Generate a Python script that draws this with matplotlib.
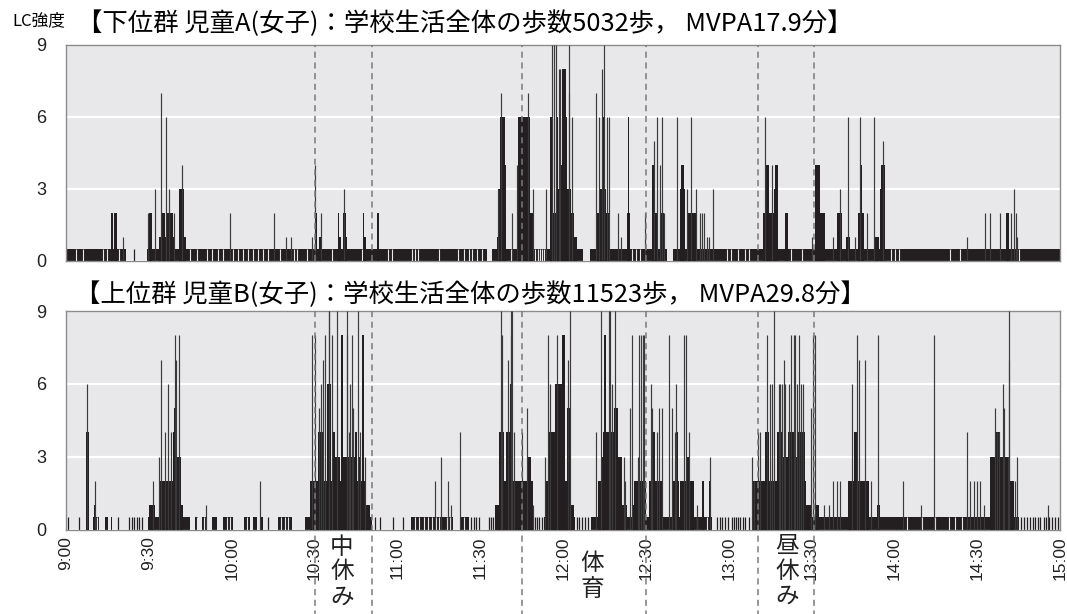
import matplotlib
matplotlib.use("Agg")
import matplotlib.pyplot as plt

# minutes after 9:00 ; levels are Lifecorder intensity (0.5 = micro activity)
periods = [90, 111, 165, 210, 250.5, 271]
tick_min = list(range(0, 361, 30))
tick_lab = ["9:00", "9:30", "10:00", "10:30", "11:00", "11:30", "12:00",
            "12:30", "13:00", "13:30", "14:00", "14:30", "15:00"]

title_a = "【下位群 児童A(女子)：学校生活全体の歩数5032歩， MVPA17.9分】"
title_b = "【上位群 児童B(女子)：学校生活全体の歩数11523歩， MVPA29.8分】"

# ---- child A (lower group) ----
a_base = [(0.0, 21.6), (29.5, 152.4), (154.2, 187.4), (189.8, 217.5), (219.9, 360.0)]
a_ticks = [24.5]
a_gaps = [3.6, 6.3, 13.5, 14.7, 19.3, 44.9, 47.3, 51.0, 52.9, 55.0, 56.8, 60.6, 62.4,
          64.2, 66.0, 67.9, 69.7, 71.5, 73.0, 77.5, 82.4, 83.8, 87.2, 96.3, 107.1, 116.8,
          118.0, 125.2, 126.4, 127.6, 135.0, 142.0, 144.0, 145.8, 147.2, 148.8, 150.6,
          161.0, 170.0, 170.8, 171.6, 172.4, 173.2, 205.0, 206.5, 208.0, 239.4, 241.0,
          243.3, 245.8, 247.2, 262.7, 266.5, 298.9, 300.4, 301.6, 320.3, 323.7, 345.3]
a_blocks = [
    (16.3, 16.9, 2), (17.5, 18.4, 2), (30.2, 31.0, 2),
    (33.8, 39.5, 1), (34.7, 36.0, 2), (36.6, 38.9, 2), (41.0, 42.8, 3), (42.8, 43.6, 1),
    (90.6, 91.0, 2), (91.8, 92.8, 1), (98.4, 99.0, 2), (98.7, 99.6, 1), (100.2, 101.4, 2),
    (100.6, 101.8, 1), (107.5, 108.0, 2), (108.0, 108.5, 1), (112.6, 113.5, 2),
    (156.0, 156.6, 1), (156.5, 157.2, 3), (157.2, 159.0, 6), (159.0, 159.5, 4),
    (163.7, 165.1, 6), (165.1, 166.4, 4), (165.3, 166.2, 6), (166.4, 168.0, 6), (168.0, 169.5, 2),
    (175.2, 184.0, 2), (178.0, 182.8, 3), (179.0, 181.6, 4), (177.5, 178.2, 6), (179.6, 181.2, 8),
    (180.6, 181.6, 6), (175.4, 176.2, 6), (184.0, 185.0, 1),
    (192.0, 193.0, 2), (193.5, 195.5, 3), (194.0, 195.2, 6), (195.5, 196.6, 2),
    (203.0, 204.3, 2), (203.4, 204.0, 6),
    (212.2, 212.8, 4), (213.0, 214.5, 2), (215.5, 216.5, 2),
    (222.3, 224.2, 3), (222.8, 224.0, 4), (225.4, 228.5, 2),
    (252.6, 257.8, 2), (253.0, 254.5, 4), (256.3, 257.8, 3), (256.6, 257.8, 4),
    (260.3, 261.5, 2), (271.1, 273.2, 4), (273.2, 275.0, 2),
    (279.2, 281.0, 2), (282.5, 283.8, 1), (286.8, 288.9, 2), (287.5, 288.3, 4),
    (293.1, 294.3, 1), (294.9, 296.8, 3), (295.3, 296.5, 4), (340.6, 341.4, 2),
]
a_spikes = [
    (20.5, 1), (29.8, 2), (32.4, 3), (34.3, 7), (36.2, 6), (37.3, 3), (39.0, 2), (42.0, 4),
    (59.4, 2), (75.4, 2), (79.7, 1), (81.6, 1), (89.2, 1), (90.2, 4), (92.3, 2), (100.6, 3),
    (157.5, 7), (156.4, 3), (161.5, 2), (163.5, 4), (167.5, 7), (169.2, 3), (174.0, 3),
    (175.9, 9), (176.6, 9), (177.3, 9), (178.5, 8), (179.0, 8), (182.3, 9), (182.0, 7), (183.3, 6),
    (192.0, 7), (193.0, 6), (194.3, 8), (194.7, 9), (195.8, 6), (196.7, 6),
    (200.1, 2), (201.0, 1), (209.6, 2),
    (212.8, 5), (214.0, 6), (215.2, 4), (216.0, 6), (216.6, 2),
    (221.3, 6), (224.9, 3), (226.4, 6), (228.0, 3), (229.5, 2), (230.2, 2), (231.0, 2),
    (232.0, 1), (232.8, 1), (234.3, 3),
    (253.0, 6), (255.7, 4), (270.2, 1), (277.7, 1), (280.4, 3), (283.1, 6), (285.6, 1),
    (287.7, 6), (290.1, 2), (292.5, 6), (295.8, 5),
    (326.3, 1), (333.0, 2), (334.8, 2), (338.4, 2), (342.4, 2), (343.4, 3), (344.1, 2), (344.5, 1),
]

# ---- child B (upper group) ----
b_base = [(7.2, 8.2), (9.9, 12.1), (14.1, 15.3), (16.2, 16.8), (29.8, 44.9), (46.7, 47.9),
          (49.2, 51.0), (52.8, 54.6), (57.0, 60.6), (64.3, 66.7), (67.9, 69.1), (70.3, 71.5),
          (76.9, 81.8), (86.6, 110.7), (125.0, 140.3), (142.8, 145.8), (155.4, 169.0),
          (173.0, 184.4), (190.0, 234.0), (248.4, 345.0)]
b_ticks = [0.8, 4.8, 19.0, 22.9, 23.8, 24.6, 25.6, 26.6, 27.4, 73.3, 112.0, 113.8, 118.6,
           122.2, 146.7, 147.6, 148.4, 149.6, 153.3, 154.0, 154.8, 169.7, 170.5, 171.4, 172.3,
           185.0, 185.9, 186.8, 188.0, 188.9, 235.7, 236.9, 237.5, 238.7, 239.7, 241.1, 241.8,
           242.6, 243.3, 244.2, 245.1, 246.0, 247.2, 346.0, 346.9, 348.1, 349.3, 350.1, 351.1,
           352.0, 352.9, 354.1, 354.9, 355.9, 357.1, 358.3, 359.3]
b_gaps = [10.6, 11.4, 30.8, 47.3, 50.0, 58.2, 59.4, 65.5, 78.0, 79.2, 80.4, 126.5, 128.0,
          129.5, 131.0, 132.5, 134.0, 135.0, 138.0, 139.0, 144.0, 228.5, 232.0, 304.6,
          310.0, 314.9, 319.7, 322.1, 324.5]
b_blocks = [
    (7.2, 8.2, 4), (10.3, 10.9, 1),
    (30.2, 32.2, 1), (33.7, 39.5, 2), (38.8, 39.2, 4), (39.2, 40.2, 5), (40.1, 41.5, 3),
    (41.5, 42.5, 1),
    (88.4, 108.3, 2), (108.3, 110.0, 1), (91.2, 93.2, 4), (94.4, 95.9, 6), (96.3, 97.5, 4),
    (97.5, 99.3, 3), (99.5, 100.2, 8), (100.5, 101.5, 3), (101.5, 104.5, 3), (104.5, 105.3, 4),
    (106.0, 107.0, 3), (107.1, 108.0, 8),
    (155.4, 157.0, 1), (157.0, 158.8, 4), (158.3, 162.1, 2), (159.5, 160.7, 4), (160.7, 162.0, 6),
    (162.1, 169.0, 1), (162.1, 165.6, 2), (165.5, 169.0, 2), (167.3, 168.5, 3),
    (173.5, 183.0, 2), (174.8, 176.6, 4), (176.4, 177.2, 4), (177.2, 179.6, 6), (179.6, 180.8, 8),
    (181.4, 182.6, 5), (182.6, 184.0, 1),
    (192.5, 201.3, 2), (193.8, 201.3, 3), (194.5, 200.1, 4), (194.8, 195.5, 8), (198.3, 200.1, 5),
    (201.3, 203.0, 1), (205.5, 206.1, 1), (205.8, 210.2, 2), (209.0, 209.6, 4),
    (211.0, 215.8, 2), (212.6, 213.3, 4),
    (220.0, 222.0, 2), (221.1, 221.8, 4), (222.5, 226.5, 2), (225.0, 226.1, 3), (226.1, 227.3, 2),
    (230.3, 230.9, 2), (232.8, 233.6, 2),
    (248.4, 268.0, 2), (253.0, 254.6, 4), (257.5, 259.3, 4), (259.3, 267.7, 3), (261.5, 264.5, 4),
    (264.9, 267.7, 4), (267.7, 270.1, 1), (271.3, 272.6, 1),
    (283.2, 290.7, 2), (285.3, 286.8, 4), (293.8, 294.9, 1),
    (334.8, 343.2, 2), (334.8, 336.6, 3), (336.6, 341.5, 3), (337.0, 338.4, 4),
]
b_spikes = [
    (7.7, 6), (10.5, 2), (31.6, 2), (33.7, 3), (34.4, 7), (36.0, 4), (37.1, 6), (38.0, 4),
    (39.5, 8), (39.9, 7), (40.8, 8), (50.6, 1), (70.3, 2),
    (89.0, 8), (90.2, 8), (91.8, 5), (92.4, 6), (92.9, 7), (93.8, 8), (95.1, 9), (95.4, 9),
    (96.4, 8), (98.1, 9), (101.8, 8), (101.9, 9), (102.5, 4), (102.9, 6), (103.5, 8),
    (104.0, 5), (105.7, 9), (106.4, 4), (108.4, 3),
    (133.7, 2), (135.7, 3), (138.5, 2), (139.5, 1), (142.6, 4),
    (157.6, 9), (157.9, 8), (160.0, 7), (161.0, 9), (161.2, 8), (161.7, 9), (162.3, 4),
    (165.1, 4), (166.9, 5), (169.1, 1),
    (173.4, 3), (174.4, 8), (175.3, 6), (177.8, 8), (181.8, 7), (182.4, 9),
    (191.9, 4), (193.9, 9), (196.5, 9), (197.1, 9), (197.8, 6), (198.9, 9), (202.0, 3), (202.6, 2),
    (204.3, 5), (204.9, 8), (207.1, 3), (207.6, 8), (208.2, 8), (208.8, 8), (209.4, 8),
    (211.8, 6), (212.2, 5), (214.0, 4), (214.6, 5), (215.8, 5),
    (218.5, 8), (219.4, 5), (220.7, 4), (221.0, 6), (223.7, 8), (224.7, 8), (225.5, 4),
    (228.5, 1), (233.3, 3),
    (248.4, 3), (249.0, 2), (250.8, 4), (251.4, 4), (253.9, 8), (255.1, 6), (255.7, 6), (256.3, 9),
    (258.1, 6), (258.7, 6), (259.3, 6), (259.9, 7), (260.5, 6), (261.7, 6), (262.7, 8),
    (263.5, 8), (264.1, 8), (264.7, 6), (265.6, 8), (266.3, 6), (266.8, 6),
    (269.7, 5), (270.4, 8), (271.1, 8),
    (274.4, 1), (276.2, 1), (277.7, 2), (279.2, 2), (280.4, 2),
    (284.7, 6), (286.5, 8), (287.3, 7), (289.2, 7), (291.7, 2), (294.1, 8),
    (303.0, 2), (309.7, 1), (314.4, 8), (326.3, 4), (327.5, 2), (329.0, 2), (329.9, 2),
    (330.9, 2), (332.4, 1),
    (336.4, 5), (337.2, 4), (338.0, 4), (339.3, 6), (339.6, 5), (341.1, 3), (341.4, 9),
    (341.6, 7), (343.6, 2), (344.5, 3), (355.7, 1),
]

BG = "#e8e8ea"
INK = "#231f20"
JP = ["Noto Sans CJK JP", "DejaVu Sans"]
W, H = 1067, 614


def draw_panel(ax, base, ticks, gaps, blocks, spikes):
    ax.set_facecolor(BG)
    ax.bar([s for s, e in base], 0.5, width=[e - s for s, e in base], align="edge",
           color=INK, linewidth=0, zorder=2)
    ax.vlines(ticks, 0, 0.5, color=INK, lw=0.9, zorder=2)
    ax.vlines(gaps, 0, 0.5, color=BG, lw=0.8, zorder=3)
    ax.bar([b[0] for b in blocks], [b[2] for b in blocks],
           width=[b[1] - b[0] for b in blocks], align="edge",
           color=INK, linewidth=0, zorder=4)
    ax.vlines([s[0] for s in spikes], 0, [s[1] for s in spikes], color="#3a3a3a",
              lw=0.85, zorder=4)
    ax.set_xlim(0, 360)
    ax.set_ylim(0, 9)
    ax.set_yticks([0, 3, 6, 9])
    ax.grid(axis="y", color="white", lw=1.6, zorder=1)
    ax.set_axisbelow(True)
    ax.set_xticks(tick_min)
    ax.tick_params(length=0, labelsize=13, labelcolor="#222222")
    ax.tick_params(axis="y", pad=14)
    for sp in ax.spines.values():
        sp.set_color("#8c8c8c")
        sp.set_linewidth(1)
    for lab in ax.get_yticklabels():
        lab.set_family("Liberation Sans")


fig = plt.figure(figsize=(W / 100, H / 100), dpi=100)
ax1 = fig.add_axes([66 / W, 1 - 260.7 / H, 994 / W, 216 / H])
ax2 = fig.add_axes([66 / W, 1 - 529.5 / H, 994 / W, 218.5 / H])

draw_panel(ax1, a_base, a_ticks, a_gaps, a_blocks, a_spikes)
draw_panel(ax2, b_base, b_ticks, b_gaps, b_blocks, b_spikes)

ax1.set_xticklabels([])
ax2.set_xticklabels(tick_lab, rotation=90, family="Liberation Sans", fontsize=12.5)
ax2.tick_params(axis="x", pad=5)

for t in periods:
    ax1.axvline(t, color="#7a7a7a", ls=(0, (4, 3)), lw=1.1, zorder=6)
    ax2.plot([t, t], [1, -0.45], transform=ax2.get_xaxis_transform(), clip_on=False,
             color="#7a7a7a", ls=(0, (4, 3)), lw=1.1, zorder=6)

fig.text(12 / W, 1 - 21 / H, "LC強度", fontsize=12, family=JP, va="center", ha="left")
fig.text(77 / W, 1 - 24 / H, title_a, fontsize=18.3, family=JP, va="center", ha="left")
fig.text(75 / W, 1 - 295 / H, title_b, fontsize=18.3, family=JP, va="center", ha="left")

# vertical labels under the bottom panel
for txt, x, y0 in [("中休み", 342, 547), ("体育", 592, 564), ("昼休み", 787, 546)]:
    for i, ch in enumerate(txt):
        fig.text(x / W, 1 - (y0 + 25 * i) / H, ch, fontsize=17, family=JP,
                 ha="center", va="center", color="#222222")

fig.savefig("out.png", dpi=100)
